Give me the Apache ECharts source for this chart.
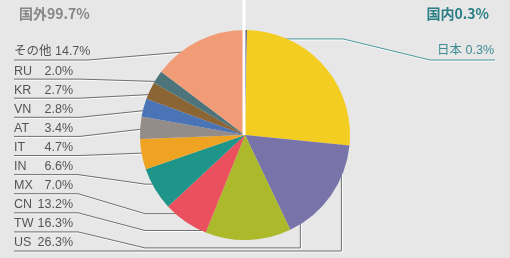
<!DOCTYPE html>
<html><head><meta charset="utf-8">
<script src="https://cdn.jsdelivr.net/npm/echarts@6/dist/echarts.min.js"></script>
<style>html,body{margin:0;padding:0;background:#e6e7e6}#c{width:510px;height:258px}</style>
</head><body><div id="c"></div>
<script>
// ---- data ----
const categories = ['日本','US','TW','CN','MX','IN','IT','AT','VN','KR','RU','その他'];
const shares = [0.3, 26.3, 16.3, 13.2, 7.0, 6.6, 4.7, 3.4, 2.8, 2.7, 2.0, 14.7];
const groupTitles = ['国外99.7%', '国内0.3%'];
// ---- styles ----
const palette = ['#55579c','#f4cd23','#7873a9','#abb92b','#ea505d','#1f9488','#eea323','#938c89','#4a74b6','#8c6535','#4e747b','#f19c77'];
const FONT = "'Liberation Sans','Noto Sans CJK JP',sans-serif";
const TFONT = "'Noto Sans CJK JP',sans-serif";
const CX = 245, CY = 135, R = 105;

const chart = echarts.init(document.getElementById('c'), null, {renderer: 'canvas'});

function layoutOf(i) {
  try {
    const l = chart.getModel().getSeriesByIndex(0).getData().getItemLayout(i);
    if (l && l.r) return l;
  } catch (e) {}
  const total = shares.reduce((a, b) => a + b, 0);
  let acc = 0; for (let k = 0; k < i; k++) acc += shares[k];
  const s = -Math.PI / 2 + acc / total * Math.PI * 2;
  return {cx: CX, cy: CY, r: R, startAngle: s, endAngle: s + shares[i] / total * Math.PI * 2};
}

function labelLayout(params) {
  const i = params.dataIndex;
  const l = layoutOf(i);
  const pt = (frac, rf) => {
    const a = l.startAngle + (l.endAngle - l.startAngle) * frac;
    return [l.cx + l.r * rf * Math.cos(a), l.cy + l.r * rf * Math.sin(a)];
  };
  if (i === 0) {
    const p = pt(0.5, 0.915);
    return {x: 494, y: 58, align: 'right', verticalAlign: 'bottom',
      labelLinePoints: [p, [343, p[1]], [430, 60], [495, 60]]};
  }
  const k = categories.length - 1 - i;          // row from top
  const y = 60 + k * 19.1;
  let pts;
  if (i === 1) {
    const p = pt(0.9, 0.92);
    pts = [p, [p[0], y], [14, y]];
  } else if (i === 2) {
    const p = pt(0.84, 0.92);
    const yb = y + 16;
    pts = [p, [p[0], yb], [145, yb], [78, y], [14, y]];
  } else if (i >= 3 && i <= 5) {
    const p = pt(0.5, 0.91);
    pts = [p, [145, p[1]], [78, y], [14, y]];
  } else {
    const p = pt(0.5, i === 11 ? 0.9 : 0.92);
    pts = [p, [i === 11 ? 88 : 80, y], [14, y]];
  }
  return {x: 14, y: y - 1, align: 'left', verticalAlign: 'bottom', labelLinePoints: pts};
}

const data = categories.map((name, i) => ({
  name, value: shares[i],
  itemStyle: {color: palette[i]},
  label: i === 0 ? {color: '#3c8c94'} : undefined,
  labelLine: i === 0 ? {lineStyle: {color: '#4a9aa0'}} : undefined
}));

chart.setOption({
  backgroundColor: '#e6e7e6',
  animation: false,
  title: [
    {text: groupTitles[0], left: 14, top: 2, textStyle: {fontSize: 14, color: '#878787', fontWeight: 'bold', fontFamily: TFONT}},
    {text: groupTitles[1], right: 16, top: 2, textStyle: {fontSize: 14, color: '#2a7e86', fontWeight: 'bold', fontFamily: TFONT}}
  ],
  series: [{
    type: 'pie',
    center: [CX, CY],
    radius: [0, R],
    startAngle: 90,
    clockwise: true,
    avoidLabelOverlap: false,
    emphasis: {disabled: true},
    data,
    label: {
      show: true, position: 'outside',
      fontFamily: FONT, fontSize: 12.5, color: '#555',
      formatter: p => {
        if (p.dataIndex === 0 || p.dataIndex === 11) return '{o|' + p.name + ' ' + p.value.toFixed(1) + '%}';
        return '{n|' + p.name + '}{v|' + p.value.toFixed(1) + '%}';
      },
      rich: {
        n: {width: 24, fontFamily: FONT, fontSize: 12.5, lineHeight: 14},
        v: {width: 35, align: 'right', fontFamily: FONT, fontSize: 12.5, lineHeight: 14},
        o: {fontFamily: FONT, fontSize: 12.5, lineHeight: 14}
      }
    },
    labelLine: {show: true, length: 10, length2: 10,
      lineStyle: {color: '#707070', width: 1, shadowColor: '#ffffff', shadowOffsetX: 1, shadowOffsetY: 1, shadowBlur: 0}},
    labelLayout
  }],
  graphic: [{type: 'rect', z: 10, silent: true, shape: {x: CX - 2.5, y: 0, width: 3, height: CY}, style: {fill: '#ffffff'}}]
});
</script></body></html>
